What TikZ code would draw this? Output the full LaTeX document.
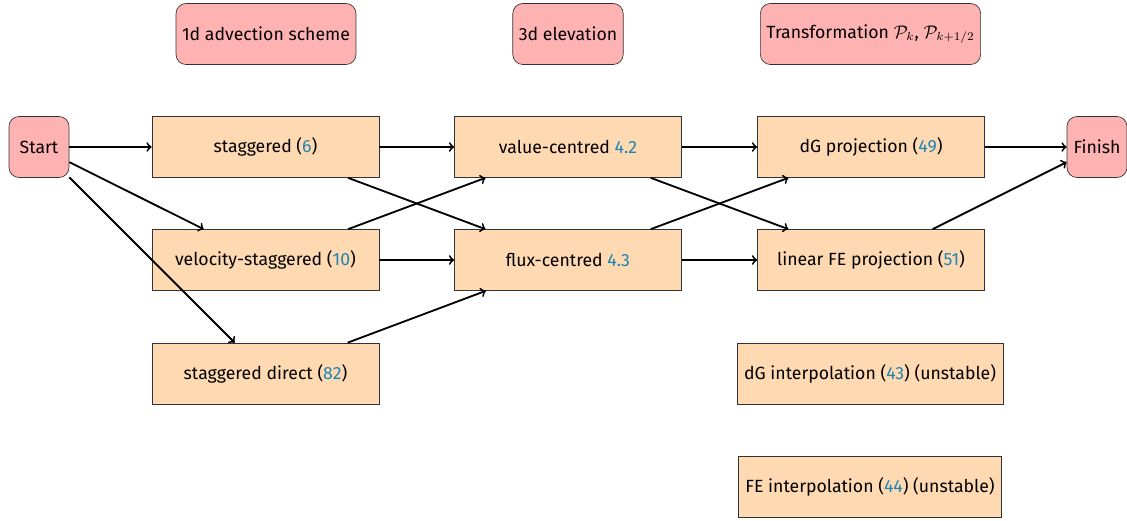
\documentclass[tikz,border=0pt]{standalone}
\usepackage{fontspec}
\setmainfont{Fira Sans}
\definecolor{citeblue}{RGB}{28,134,178}
\newcommand{\cref}[1]{\textcolor{citeblue}{#1}}
\begin{document}
\begin{tikzpicture}[x=0.6pt,y=-0.6pt,
  every node/.style={font=\fontsize{10.6pt}{12pt}\selectfont},
  stepbox/.style={draw=black!80, fill=orange!30, minimum width=136.2pt, minimum height=36.6pt, inner sep=4.2pt},
  headbox/.style={draw=black!80, fill=red!30, rounded corners=6pt, minimum height=36.6pt, minimum width=36pt, inner sep=3.6pt},
  arr/.style={->, line width=1.1pt}]
\useasboundingbox (0,0) rectangle (1127,520);
\node[headbox] (h1) at (266,34) {1d advection scheme};
\node[headbox] (h2) at (568,34) {3d elevation};
\node[headbox] (h3) at (870.5,34) {Transformation $\mathcal{P}_k$, $\mathcal{P}_{k+1/2}$};
\node[headbox] (start) at (39,147) {Start};
\node[headbox] (finish) at (1097,147) {Finish};
\node[stepbox] (stag) at (265.5,147) {staggered (\cref{6})};
\node[stepbox] (vel) at (265.5,260) {velocity-staggered (\cref{10})};
\node[stepbox] (sdir) at (265.5,373.5) {staggered direct (\cref{82})};
\node[stepbox] (val) at (568,147) {value-centred \cref{4.2}};
\node[stepbox] (flux) at (568,260) {flux-centred \cref{4.3}};
\node[stepbox] (dgp) at (871,147) {dG projection (\cref{49})};
\node[stepbox] (fep) at (871,260) {linear FE projection (\cref{51})};
\node[stepbox] (dgi) at (870,373.5) {dG interpolation (\cref{43}) (unstable)};
\node[stepbox] (fei) at (870,486.5) {FE interpolation (\cref{44}) (unstable)};
\draw[arr] (start) -- (stag);
\draw[arr] (start) -- (vel);
\draw[arr] (start) -- (sdir);
\draw[arr] (stag) -- (val);
\draw[arr] (stag) -- (flux);
\draw[arr] (vel) -- (val);
\draw[arr] (vel) -- (flux);
\draw[arr] (sdir) -- (flux);
\draw[arr] (val) -- (dgp);
\draw[arr] (val) -- (fep);
\draw[arr] (flux) -- (dgp);
\draw[arr] (flux) -- (fep);
\draw[arr] (dgp) -- (finish);
\draw[arr] (fep) -- (finish);
\end{tikzpicture}
\end{document}
